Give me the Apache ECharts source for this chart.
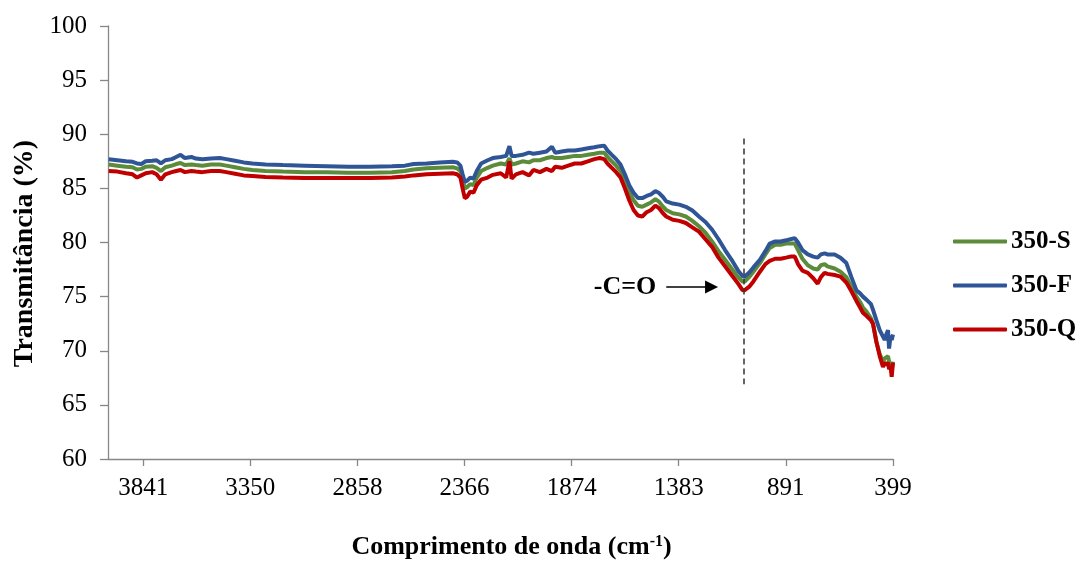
<!DOCTYPE html>
<html>
<head>
<meta charset="utf-8">
<script src="https://cdn.jsdelivr.net/npm/echarts@6/dist/echarts.min.js"></script>
<style>
  html, body { margin: 0; padding: 0; background: #fff; }
  #chart { width: 1082px; height: 561px; }
</style>
</head>
<body>
<div id="chart"></div>
<script>
// numero de onda (cm-1), eixo invertido
var waveNumbers = [4000, 3960, 3920, 3890, 3870, 3850, 3830, 3800, 3780, 3760, 3740, 3710, 3690, 3670, 3650, 3620, 3600, 3570, 3530, 3490, 3460, 3420, 3380, 3340, 3280, 3200, 3100, 3000, 2900, 2800, 2700, 2640, 2600, 2540, 2480, 2420, 2400, 2385, 2375, 2365, 2355, 2340, 2325, 2310, 2290, 2260, 2236, 2200, 2175, 2160, 2150, 2130, 2100, 2070, 2050, 2020, 1990, 1965, 1950, 1920, 1890, 1860, 1830, 1800, 1770, 1745, 1725, 1710, 1690, 1670, 1650, 1630, 1610, 1590, 1570, 1550, 1530, 1510, 1490, 1475, 1455, 1440, 1410, 1380, 1350, 1320, 1290, 1260, 1230, 1200, 1170, 1140, 1110, 1090, 1080, 1060, 1040, 1010, 985, 965, 940, 915, 890, 870, 850, 835, 815, 790, 765, 745, 730, 713, 700, 667, 640, 613, 590, 567, 550, 537, 520, 500, 491, 475, 460, 445, 437, 428, 422, 417, 410, 405, 399];

// 350-S
var serieS = [87.2, 87.1, 87.0, 86.95, 86.75, 86.8, 87.0, 87.05, 86.9, 86.6, 86.95, 87.1, 87.25, 87.35, 87.15, 87.2, 87.15, 87.1, 87.2, 87.2, 87.1, 86.95, 86.8, 86.7, 86.6, 86.55, 86.5, 86.5, 86.45, 86.45, 86.5, 86.6, 86.75, 86.85, 86.9, 86.95, 86.85, 86.6, 85.8, 85.0, 85.1, 85.4, 85.3, 86.0, 86.6, 86.9, 87.1, 87.3, 87.2, 87.8, 87.2, 87.3, 87.5, 87.4, 87.6, 87.6, 87.8, 87.9, 87.8, 87.8, 87.9, 88.0, 88.0, 88.1, 88.2, 88.3, 88.3, 87.9, 87.5, 87.1, 86.6, 85.7, 84.7, 83.9, 83.4, 83.3, 83.5, 83.7, 84.0, 83.8, 83.3, 83.0, 82.7, 82.6, 82.4, 82.0, 81.5, 80.9, 80.1, 79.2, 78.4, 77.6, 76.8, 76.4, 76.4, 76.8, 77.3, 78.1, 78.9, 79.5, 79.8, 79.8, 79.9, 79.9, 79.9, 79.3, 78.5, 77.9, 77.6, 77.5, 77.9, 78.0, 77.8, 77.6, 77.3, 76.8, 75.9, 75.0, 74.5, 74.0, 73.6, 73.0, 72.5, 70.8, 69.7, 69.0, 69.3, 69.4, 69.5, 69.0, 68.6, 68.3, 69.0];

// 350-F
var serieF = [87.7, 87.6, 87.5, 87.45, 87.3, 87.25, 87.5, 87.55, 87.6, 87.3, 87.6, 87.7, 87.9, 88.1, 87.8, 87.9, 87.75, 87.7, 87.75, 87.8, 87.7, 87.55, 87.4, 87.3, 87.2, 87.15, 87.1, 87.05, 87.0, 87.0, 87.05, 87.1, 87.25, 87.3, 87.4, 87.45, 87.4, 87.1, 86.3, 85.6, 85.7, 86.0, 85.9, 86.6, 87.3, 87.6, 87.8, 87.9, 88.0, 88.9, 88.0, 88.0, 88.1, 88.3, 88.2, 88.3, 88.4, 88.85, 88.3, 88.4, 88.5, 88.5, 88.6, 88.7, 88.8, 88.9, 88.95, 88.5, 88.1, 87.7, 87.2, 86.3, 85.3, 84.6, 84.1, 84.1, 84.3, 84.45, 84.75, 84.6, 84.2, 83.8, 83.6, 83.5, 83.3, 82.95, 82.4, 81.9, 81.2, 80.3, 79.3, 78.4, 77.4, 76.9, 76.85, 77.2, 77.7, 78.4, 79.2, 79.9, 80.1, 80.1, 80.2, 80.3, 80.4, 80.0, 79.3, 78.9, 78.7, 78.6, 78.9, 79.0, 78.9, 78.9, 78.6, 78.1, 76.8, 75.6, 75.3, 75.0, 74.7, 74.3, 73.8, 72.8, 71.9, 71.3, 71.0, 71.6, 71.9, 70.2, 71.4, 71.0, 71.5];

// 350-Q
var serieQ = [86.6, 86.55, 86.4, 86.3, 86.0, 86.2, 86.4, 86.5, 86.3, 85.8, 86.3, 86.5, 86.6, 86.7, 86.5, 86.6, 86.55, 86.5, 86.6, 86.6, 86.5, 86.35, 86.2, 86.15, 86.05, 86.0, 85.95, 85.95, 85.95, 85.95, 86.0, 86.1, 86.2, 86.3, 86.35, 86.4, 86.3, 86.0, 85.0, 84.1, 84.2, 84.7, 84.6, 85.3, 85.8, 86.0, 86.25, 86.4, 86.0, 87.5, 85.9, 86.3, 86.5, 86.2, 86.7, 86.5, 86.8, 86.6, 87.0, 86.9, 87.1, 87.3, 87.3, 87.5, 87.7, 87.8, 87.7, 87.3, 86.9, 86.5, 86.0, 85.0, 83.9, 83.0, 82.5, 82.4, 82.8, 83.0, 83.4, 83.2, 82.7, 82.4, 82.1, 82.0, 81.8, 81.4, 81.0, 80.3, 79.6, 78.6, 77.8, 77.0, 76.2, 75.6, 75.6, 75.9, 76.4, 77.3, 78.0, 78.3, 78.5, 78.5, 78.6, 78.7, 78.7, 78.0, 77.4, 77.2, 76.7, 76.2, 76.8, 77.2, 77.1, 77.0, 76.85, 76.3, 75.5, 74.6, 74.0, 73.5, 73.2, 72.8, 72.5, 70.8, 69.5, 68.5, 68.9, 68.7, 68.9, 68.3, 68.5, 67.6, 68.9];

var xTickLabels = [3841, 3350, 2858, 2366, 1874, 1383, 891, 399];
var seriesNames = ['350-S', '350-F', '350-Q'];
var seriesColors = ['#5B8B3B', '#2F5597', '#C00000'];

// linha tracejada da banda C=O e seta
var bandaCO = { x: 1084, yTop: 89.6, yBottom: 66.9 };
var setaCO = { xFrom: 1440, xTo: 1232, y: 75.9, texto: '-C=O' };

function pares(valores) {
  return waveNumbers.map(function (wn, i) {
    return [wn, valores[i]];
  });
}

var fonte = '"Liberation Serif", "Times New Roman", serif';
var corEixo = '#878787';

var chart = echarts.init(document.getElementById('chart'));

var option = {
  animation: false,
  color: seriesColors,
  grid: { left: 108, right: 189, top: 26, bottom: 102, outerBoundsMode: 'none', containLabel: false },
  legend: {
    data: seriesNames,
    orient: 'vertical',
    left: 953,
    top: 229,
    padding: 0,
    itemWidth: 54,
    itemHeight: 4,
    itemGap: 19,
    icon: 'roundRect',
    textStyle: { fontFamily: fonte, fontSize: 25, fontWeight: 'bold', color: '#000', padding: [0, 0, 0, -1] }
  },
  xAxis: {
    type: 'value',
    inverse: true,
    min: 399,
    max: 4003,
    name: '{a|Comprimento de onda (cm}{s|-1}{a|)}',
    nameLocation: 'middle',
    nameGap: 75,
    nameTextStyle: {
      padding: [0, 0, 0, 22],
      rich: {
        a: { fontFamily: fonte, fontSize: 26, fontWeight: 'bold', color: '#000' },
        s: { fontFamily: fonte, fontSize: 16, fontWeight: 'bold', color: '#000', verticalAlign: 'top', padding: [0, 0, 10, 0] }
      }
    },
    axisLine: { onZero: false, lineStyle: { color: corEixo, width: 1.3 } },
    axisTick: { show: true, length: 7, customValues: xTickLabels, lineStyle: { color: corEixo, width: 1.3 } },
    axisLabel: {
      customValues: xTickLabels,
      margin: 17,
      fontFamily: fonte,
      fontSize: 25,
      color: '#000',
      formatter: function (v) { return String(v); }
    },
    splitLine: { show: false }
  },
  yAxis: {
    type: 'value',
    min: 60,
    max: 100,
    interval: 5,
    name: 'Transmitância (%)',
    nameLocation: 'middle',
    nameGap: 66,
    nameTextStyle: { fontFamily: fonte, fontSize: 28, fontWeight: 'bold', color: '#000', padding: [0, 22, 0, 0] },
    axisLine: { show: true, lineStyle: { color: corEixo, width: 1.3 } },
    axisTick: { show: true, length: 8, lineStyle: { color: corEixo, width: 1.3 } },
    axisLabel: { margin: 21, fontFamily: fonte, fontSize: 25, color: '#000' },
    splitLine: { show: false }
  },
  series: [
    {
      name: seriesNames[0],
      type: 'line',
      showSymbol: false,
      symbol: 'none',
      lineStyle: { width: 4, color: seriesColors[0] },
      data: pares(serieS)
    },
    {
      name: seriesNames[1],
      type: 'line',
      showSymbol: false,
      symbol: 'none',
      lineStyle: { width: 4, color: seriesColors[1] },
      data: pares(serieF)
    },
    {
      name: seriesNames[2],
      type: 'line',
      showSymbol: false,
      symbol: 'none',
      lineStyle: { width: 4, color: seriesColors[2] },
      data: pares(serieQ),
      markLine: {
        silent: true,
        animation: false,
        data: [
          [
            {
              coord: [bandaCO.x, bandaCO.yTop],
              symbol: 'none',
              lineStyle: { color: '#333', width: 1.5, type: [6, 4] },
              label: { show: false }
            },
            { coord: [bandaCO.x, bandaCO.yBottom], symbol: 'none' }
          ],
          [
            {
              coord: [setaCO.xFrom, setaCO.y],
              symbol: 'none',
              lineStyle: { color: '#000', width: 1.5, type: 'solid' },
              label: {
                show: true,
                position: 'start',
                distance: 10,
                formatter: setaCO.texto,
                fontFamily: fonte,
                fontSize: 26,
                fontWeight: 'bold',
                color: '#000'
              }
            },
            { coord: [setaCO.xTo, setaCO.y], symbol: 'triangle', symbolSize: [13, 13] }
          ]
        ]
      }
    }
  ]
};

chart.setOption(option);
</script>
</body>
</html>
